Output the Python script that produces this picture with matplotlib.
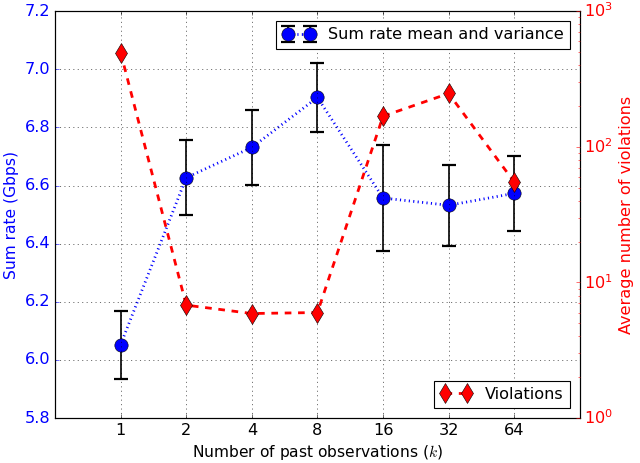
import numpy as np
import matplotlib
matplotlib.use("Agg")
import matplotlib.pyplot as plt

plt.style.use("classic")
plt.rcParams["mathtext.fontset"] = "cm"

# past observations k
k_labels = ["1", "2", "4", "8", "16", "32", "64"]
# sum rate (Gbps) mean and spread
rate_mean = [6.053, 6.627, 6.731, 6.903, 6.557, 6.532, 6.573]
rate_err = [0.117, 0.129, 0.130, 0.118, 0.182, 0.139, 0.130]
# average number of violations
violations = [495, 6.8, 5.9, 6.0, 168, 247, 55]

x = np.arange(len(k_labels))

fig = plt.figure(figsize=(8, 5.7875), dpi=80)
ax1 = fig.add_axes([0.086, 0.097, 0.82, 0.879])

ax1.errorbar(x, rate_mean, yerr=rate_err, fmt="o:", color="blue", ecolor="black",
             elinewidth=1.5, capsize=6, capthick=2, markersize=12, linewidth=2.5,
             label="Sum rate mean and variance")
ax1.set_xlim(-1, 7)
ax1.set_ylim(5.8, 7.2)
ax1.set_xticks(x)
ax1.set_xticklabels(k_labels)
ax1.set_xlabel("Number of past observations ($k$)", fontsize=14)
ax1.set_ylabel("Sum rate (Gbps)", color="blue", fontsize=14)
ax1.tick_params(axis="y", colors="blue")
ax1.tick_params(labelsize=14.5)
ax1.grid(True)
ax1.legend(loc="upper right", numpoints=2, fontsize=14.5, borderaxespad=0.6)

ax2 = ax1.twinx()
ax2.plot(x, violations, "rd--", markersize=13, linewidth=2.5, label="Violations")
ax2.set_yscale("log")
ax2.set_ylim(1, 1000)
ax2.set_xlim(-1, 7)
ax2.set_ylabel("Average number of violations", color="red", fontsize=14.5)
ax2.tick_params(axis="y", which="both", colors="red", labelsize=14.5)
ax2.legend(loc="lower right", numpoints=2, fontsize=14.5, borderaxespad=0.6)

plt.savefig("out.png", dpi=80)
